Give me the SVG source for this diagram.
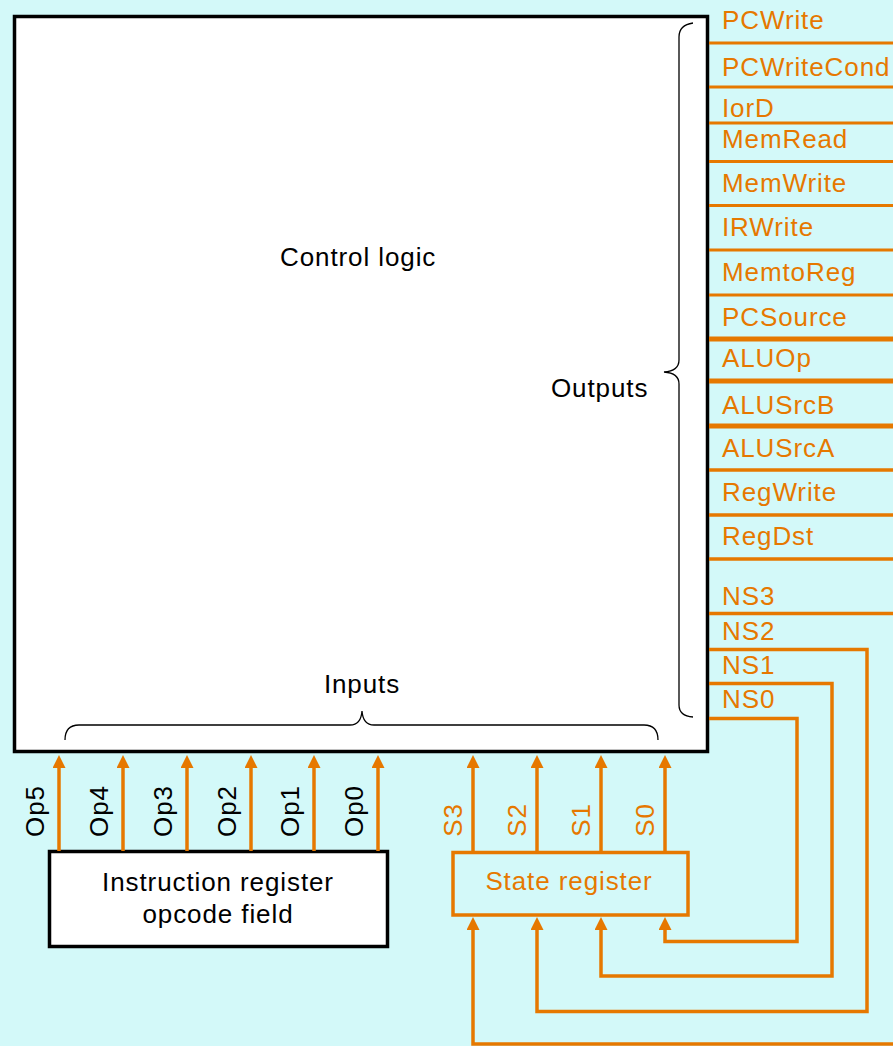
<svg xmlns="http://www.w3.org/2000/svg" width="893" height="1046" viewBox="0 0 893 1046">
<style>
.t{font-family:"Liberation Sans",Arial,sans-serif;font-size:26px;letter-spacing:0.9px}
.blk{fill:#000}
.org{fill:#E67800}
.w{fill:none;stroke:#E67800;stroke-width:3.5}
.brace{fill:none;stroke:#000;stroke-width:1.3}
</style>
<defs>
<marker id="ah" markerUnits="userSpaceOnUse" markerWidth="14" markerHeight="14" refX="8" refY="6.5" orient="auto">
<path d="M0,0 L13,6.5 L0,13 z" fill="#E67800"/>
</marker>
</defs>
<rect x="0" y="0" width="893" height="1046" fill="#D3F9F9"/>

<g id="control-logic">
<rect x="14.5" y="16.5" width="693" height="735" fill="#fff" stroke="#000" stroke-width="3.5"/>
<text class="t blk" x="280" y="266">Control logic</text>
<text class="t blk" x="551" y="397">Outputs</text>
<text class="t blk" x="362" y="693" text-anchor="middle">Inputs</text>
<path class="brace" d="M693,23 Q679,25 679,37 L679,360 Q679,371 664,372 Q679,373 679,384 L679,705 Q679,716 693,717"/>
<path class="brace" d="M65,740 Q65,725 79,725 L350,725 Q361,725 362,711 Q363,725 374,725 L644,725 Q658,725 658,740"/>
</g>

<g id="ir-opcode">
<rect x="49.5" y="851.5" width="338" height="95" fill="#fff" stroke="#000" stroke-width="3.5"/>
<text class="t blk" x="218" y="891" text-anchor="middle">Instruction register</text>
<text class="t blk" x="218" y="923" text-anchor="middle">opcode field</text>
</g>

<g id="state-register">
<rect x="453" y="852.5" width="235" height="62.5" fill="#D3F9F9" stroke="#E67800" stroke-width="3.5"/>
<text class="t org" x="569" y="890" text-anchor="middle">State register</text>
</g>

<g id="output-labels" class="t org">
<text x="722" y="29">PCWrite</text>
<text x="722" y="76">PCWriteCond</text>
<text x="722" y="117">IorD</text>
<text x="722" y="148">MemRead</text>
<text x="722" y="192">MemWrite</text>
<text x="722" y="236">IRWrite</text>
<text x="722" y="281">MemtoReg</text>
<text x="722" y="326">PCSource</text>
<text x="722" y="367">ALUOp</text>
<text x="722" y="414">ALUSrcB</text>
<text x="722" y="457">ALUSrcA</text>
<text x="722" y="501">RegWrite</text>
<text x="722" y="545">RegDst</text>
<text x="722" y="605">NS3</text>
<text x="722" y="640">NS2</text>
<text x="722" y="674">NS1</text>
<text x="722" y="708">NS0</text>
</g>

<g id="input-labels" class="t">
<text class="blk" transform="translate(43.5,811) rotate(-90)" text-anchor="middle">Op5</text>
<text class="blk" transform="translate(107.5,811) rotate(-90)" text-anchor="middle">Op4</text>
<text class="blk" transform="translate(171.5,811) rotate(-90)" text-anchor="middle">Op3</text>
<text class="blk" transform="translate(235.5,811) rotate(-90)" text-anchor="middle">Op2</text>
<text class="blk" transform="translate(298.5,811) rotate(-90)" text-anchor="middle">Op1</text>
<text class="blk" transform="translate(362.5,811) rotate(-90)" text-anchor="middle">Op0</text>
<text class="org" transform="translate(461.5,820) rotate(-90)" text-anchor="middle">S3</text>
<text class="org" transform="translate(525.5,820) rotate(-90)" text-anchor="middle">S2</text>
<text class="org" transform="translate(589.5,820) rotate(-90)" text-anchor="middle">S1</text>
<text class="org" transform="translate(653.5,820) rotate(-90)" text-anchor="middle">S0</text>
</g>

<g id="connectors">
<path class="w" style="stroke-width:3" d="M709,43H893M709,87H893M709,123H893M709,161.5H893M709,205.5H893M709,250H893M709,295H893"/>
<path class="w" style="stroke-width:5" d="M709,339H893M709,381H893M709,426H893"/>
<path class="w" d="M709,470H893M709,515H893M709,559H893M709,613.5H893"/>
<g class="w" marker-end="url(#ah)">
<path d="M59,851V760"/>
<path d="M123,851V760"/>
<path d="M187,851V760"/>
<path d="M251,851V760"/>
<path d="M314,851V760"/>
<path d="M378,851V760"/>
<path d="M473,851V760"/>
<path d="M537,851V760"/>
<path d="M601,851V760"/>
<path d="M665,851V760"/>
<path d="M709,718.5H797V941.5H665V922"/>
<path d="M709,683.5H832V976H601V922"/>
<path d="M709,649.5H867V1011.5H537V922"/>
<path d="M893,1044H473V922"/>
</g>
</g>
</svg>
